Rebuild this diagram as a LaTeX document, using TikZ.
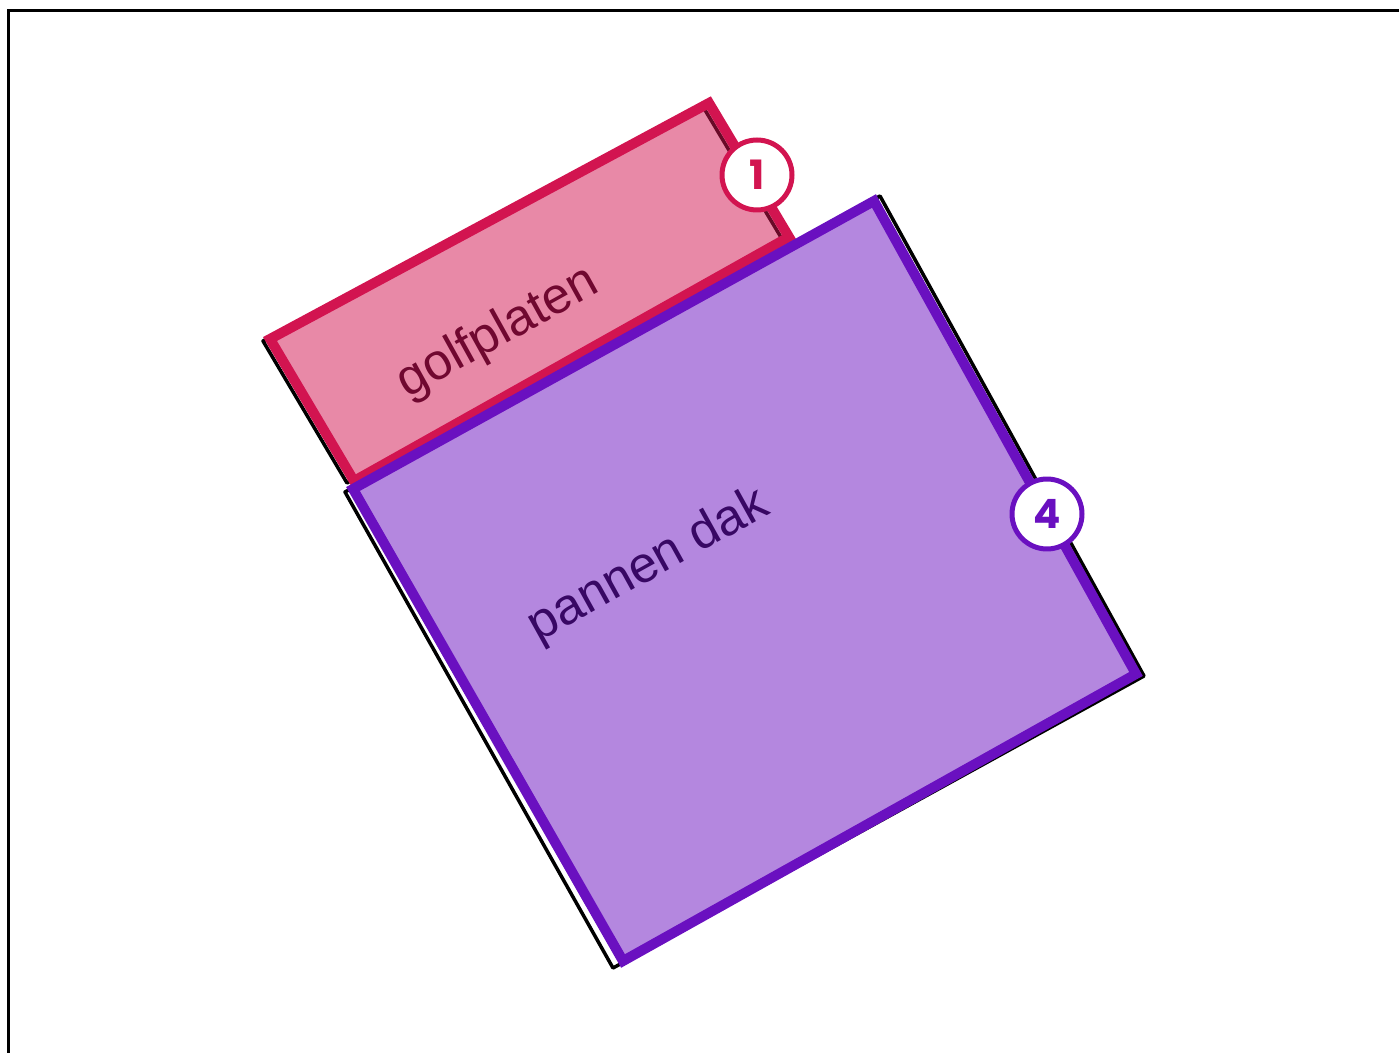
\documentclass[tikz,border=0pt]{standalone}
\usepackage{fontspec}
\setmainfont{Liberation Sans}
\newfontfamily\badgefont{Poppins}
\usepackage{xcolor}

\definecolor{golfred}{RGB}{210,20,80}
\definecolor{golftext}{RGB}{112,8,48}
\definecolor{panpurple}{RGB}{106,16,192}
\definecolor{pantext}{RGB}{56,8,100}

\begin{document}
\begin{tikzpicture}[x=0.02cm, y=-0.02cm]
        % ================= styles =================
        \tikzset{
            % coloured roof area: transparent fill, solid edge
            sheet/.style={line width=0.2cm, line join=miter, fill opacity=0.5},
            % black trace of the original drawing
            trace/.style={line width=0.07cm, black, line join=round},
            % roof name
            roofname/.style={font=\fontsize{29}{29}\selectfont, inner sep=0pt, rotate=29},
            % numbered badge
            badge/.style={circle, draw, line width=0.1cm, fill=white, minimum size=1.4cm,
                inner sep=0pt, font=\badgefont\bfseries\fontsize{23}{23}\selectfont}
        }

        \useasboundingbox (0,0) rectangle (1399,1053);

        % frame
        \draw[line width=0.06cm] (8.5,1053) -- (8.5,10.5) -- (1399,10.5);

        % ================= 1. corner points =================
        \coordinate (g-nw) at (270,339);
        \coordinate (g-ne) at (709,103);
        \coordinate (g-se) at (789,237);
        \coordinate (g-sw) at (354,481);

        \coordinate (p-n) at (874,201);
        \coordinate (p-e) at (1136,674);
        \coordinate (p-s) at (623,961);
        \coordinate (p-w) at (353,489);

        % ================= 2. black traces underneath =================
        \draw[trace] (263,341) -- (702,105) -- (782,239) -- (347,483) -- cycle;
        \draw[trace] (345,492) -- (880,196) -- (1144,676) -- (613,968) -- cycle;

        % ================= 3. roof areas =================
        \draw[sheet, draw=golfred, fill=golfred] (g-nw) -- (g-ne) -- (g-se) -- (g-sw) -- cycle;
        \draw[sheet, draw=panpurple, fill=panpurple] (p-n) -- (p-e) -- (p-s) -- (p-w) -- cycle;

        % names
        \node[roofname, text=golftext] (golf) at (498,333) {golfplaten};
        \node[roofname, text=pantext] (pan) at (649,566) {pannen dak};

        % ================= 4. badges =================
        \node[badge, draw=golfred, text=golfred] (golf-tag) at (757,175) {1};
        \node[badge, draw=panpurple, text=panpurple] (pan-tag) at (1047,514) {4};

    \end{tikzpicture}
\end{document}
